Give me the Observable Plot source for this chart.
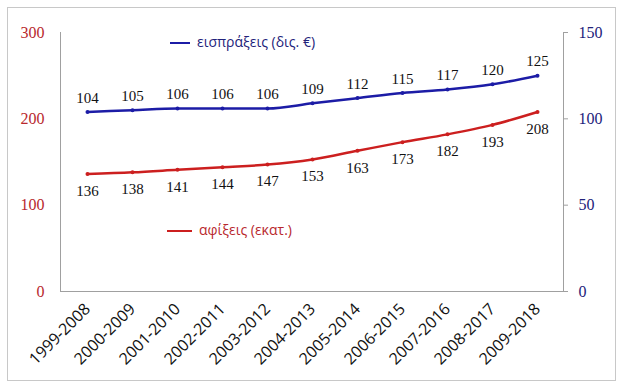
<!DOCTYPE html>
<html>
<head>
<meta charset="utf-8">
<script src="https://cdn.jsdelivr.net/npm/d3@7"></script>
<script src="https://cdn.jsdelivr.net/npm/@observablehq/plot@0.6"></script>
<style>
  body { margin: 0; background: #fff; }
  #wrap { position: relative; width: 621px; height: 388px; overflow: hidden; }
  #border { position: absolute; left: 7px; top: 7px; width: 609px; height: 374px; box-sizing: border-box; border: 1px solid #c8c8c8; pointer-events: none; }
  .leg { position: absolute; font-family: "Open Sans", sans-serif; font-size: 14px; white-space: nowrap; line-height: 16px; }
  .leg span.sw { display: inline-block; vertical-align: middle; height: 2px; margin-right: 7px; }
  svg { position: absolute; left: 0; top: 0; }
</style>
</head>
<body>
<div id="wrap">
  <div id="border"></div>
</div>
<script>
const periods = ["1999-2008","2000-2009","2001-2010","2002-2011","2003-2012","2004-2013","2005-2014","2006-2015","2007-2016","2008-2017","2009-2018"];
const arrivals = [136,138,141,144,147,153,163,173,182,193,208];   // αφίξεις (εκατ.) – left axis
const receipts = [104,105,106,106,106,109,112,115,117,120,125];   // εισπράξεις (δις. €) – right axis
const leftTicks = [0,100,200,300];
const rightTicks = [0,50,100,150];
const legendBlue = "εισπράξεις (δις. €)";
const legendRed = "αφίξεις (εκατ.)";

const RED = "#cc1f1f", BLUE = "#1c1ca6";
const RED_TXT = "#b8282d", BLUE_TXT = "#22227a";
const k = 300 / 150; // right axis maps onto left scale

const data = periods.map((p, i) => ({period: p, arr: arrivals[i], rec: receipts[i] * k, recLabel: receipts[i]}));

const chart = Plot.plot({
  width: 621, height: 388,
  marginLeft: 60, marginRight: 58, marginTop: 32, marginBottom: 97,
  x: {type: "point", domain: periods, padding: 0.5},
  y: {domain: [0, 300]},
  style: {background: "transparent"},
  marks: [
    Plot.frame({anchor: "left", stroke: "#a0a0a0"}),
    Plot.frame({anchor: "right", stroke: "#a0a0a0"}),
    Plot.frame({anchor: "bottom", stroke: "#a0a0a0"}),
    Plot.axisY(leftTicks, {anchor: "left", tickSize: 0, tickPadding: 16, fill: RED_TXT, label: null}),
    Plot.axisY(rightTicks.map(d => d * k), {anchor: "right", tickSize: 4, tickPadding: 11, stroke: "#a0a0a0", fill: BLUE_TXT, tickFormat: d => d / k, label: null}),
    Plot.axisX({tickRotate: -45, tickSize: 0, tickPadding: 15, fill: "#111", label: null}),
    Plot.lineY(data, {x: "period", y: "arr", stroke: RED, strokeWidth: 2.5, curve: "monotone-x"}),
    Plot.dot(data, {x: "period", y: "arr", fill: RED, r: 2}),
    Plot.lineY(data, {x: "period", y: "rec", stroke: BLUE, strokeWidth: 2.5, curve: "monotone-x"}),
    Plot.dot(data, {x: "period", y: "rec", fill: BLUE, r: 2}),
    Plot.text(data, {x: "period", y: "rec", text: "recLabel", dy: -14, fill: "#111"}),
    Plot.text(data, {x: "period", y: "arr", text: "arr", dy: 17, fill: "#111"})
  ]
});
const wrap = document.getElementById("wrap");
wrap.insertBefore(chart, wrap.firstChild);
// enforce fonts on text marks
d3.select(chart).selectAll('g[aria-label="text"] text').style("font-family", "Liberation Serif, serif").style("font-size", "15px");
d3.select(chart).selectAll('g[aria-label="x-axis tick label"] text').style("font-family", "Open Sans, sans-serif").style("font-size", "16px");
d3.select(chart).selectAll('g[aria-label="y-axis tick label"] text').style("font-family", "Liberation Serif, serif").style("font-size", "16px");

function legend(label, color, txtColor, left, top, sw) {
  const d = document.createElement("div");
  d.className = "leg";
  d.style.left = left + "px"; d.style.top = top + "px"; d.style.color = txtColor;
  const s = document.createElement("span");
  s.className = "sw"; s.style.background = color; s.style.width = sw + "px";
  d.appendChild(s);
  d.appendChild(document.createTextNode(label));
  wrap.appendChild(d);
}
legend(legendBlue, BLUE, BLUE_TXT, 170, 34, 20);
legend(legendRed, RED, RED_TXT, 167, 222, 25);
</script>
</body>
</html>
